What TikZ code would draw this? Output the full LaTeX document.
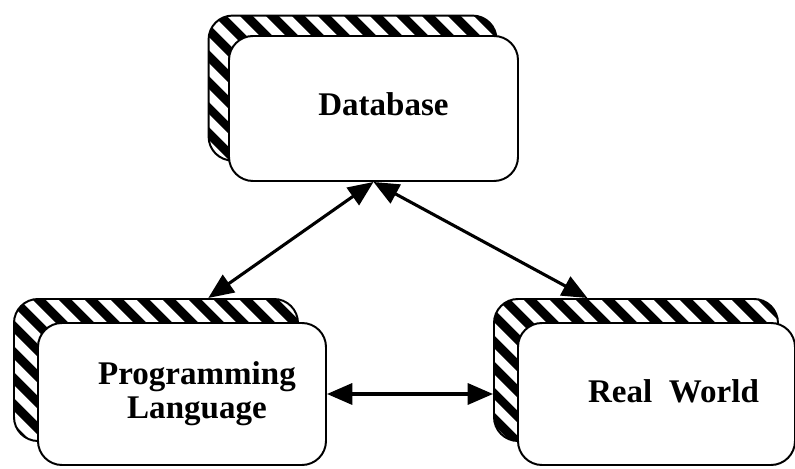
\documentclass[tikz,border=0pt]{standalone}
\usepackage{fontspec}
\setmainfont{Liberation Serif}
\usetikzlibrary{calc,arrows.meta,patterns.meta}

\tikzset{
  backbox/.style={draw, line width=1.4pt, rounded corners=0.6cm,
    pattern={Lines[angle=-45,distance=13pt,line width=6.5pt]}},
  frontbox/.style={draw, line width=1.4pt, rounded corners=0.6cm, fill=white},
  boxlabel/.style={font=\fontsize{23.5}{24}\selectfont\bfseries, align=center},
  link/.style={line width=2.2pt,
    {Triangle[length=18pt,width=15pt]}-{Triangle[length=18pt,width=15pt]}}
}

% #1 name, #2/#3 top left corner, #4 back width, #5 front width,
% #6 height, #7 label offset, #8 label
\newcommand{\stackedbox}[8]{%
  \node[backbox, anchor=north west, minimum width={#4*0.025cm},
    minimum height={#6*0.025cm}] (#1back) at (#2,#3) {};
  \node[frontbox, anchor=north west, minimum width={#5*0.025cm},
    minimum height={#6*0.025cm}] (#1) at ($(#2,#3)+(24,24)$) {};
  \node[boxlabel] (#1label) at ($(#1.center)+(#7)$) {#8};
}

\begin{document}
\begin{tikzpicture}[x=0.025cm, y=-0.025cm]
  \fill[white] (0,0) rectangle (795,468);
  \useasboundingbox (0,0) rectangle (795,468);

  \stackedbox{db}{204}{11}{288}{289}{145}{10,-4}{Database}
  \stackedbox{pl}{13}{298}{284}{288}{142}{15,0}{Programming\\Language}
  \stackedbox{rw}{493}{298}{284}{277}{142}{17,-3}{Real\ \ World}

  \draw[link] (db.south) -- (plback.54);
  \draw[link] (db.south) -- (rwback.124);
  \draw[link] (pl.east) -- (pl.east -| rwback.west);
\end{tikzpicture}
\end{document}
